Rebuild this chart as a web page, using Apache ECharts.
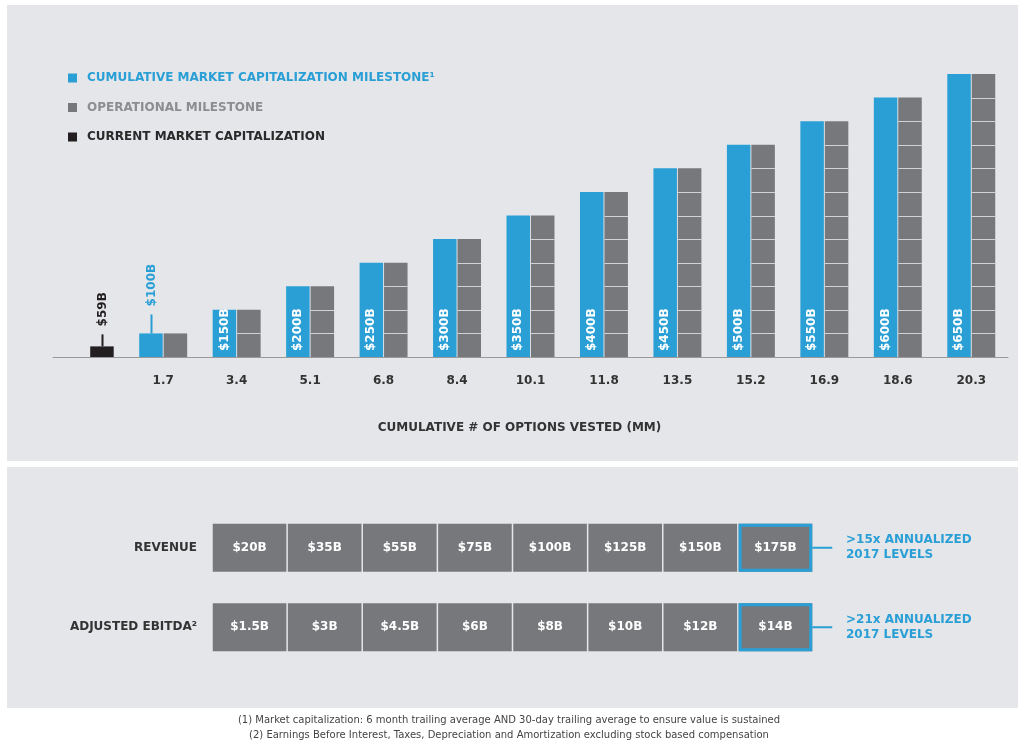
<!DOCTYPE html>
<html lang="en">
  <head>
    <meta charset="utf-8">
    <title>Milestones</title>
    <script type="text/javascript" src="https://cdn.jsdelivr.net/npm/echarts@6/dist/echarts.min.js"></script>
    <style>
      html, body { margin: 0; padding: 0; background: #fff; }
      #chartDiv { width: 1018px; height: 742px; }
    </style>
  </head>
  <body>
    <div id="chartDiv"></div>
    <script>
      // top chart data
      var categories = ['', '1.7', '3.4', '5.1', '6.8', '8.4', '10.1', '11.8', '13.5', '15.2', '16.9', '18.6', '20.3'];
      var capLabels = ['$59B', '$100B', '$150B', '$200B', '$250B', '$300B', '$350B', '$400B', '$450B', '$500B', '$550B', '$600B', '$650B'];
      // bar heights in milestone units
      var milestoneHeights = ['-', 1, 2, 3, 4, 5, 6, 7, 8, 9, 10, 11, 12];
      var segmentCounts = ['-', 1, 2, 3, 4, 5, 6, 7, 8, 9, 10, 11, 12];
      var currentHeight = [0.45, '-', '-', '-', '-', '-', '-', '-', '-', '-', '-', '-', '-'];

      // bottom table data
      var columns = ['1', '2', '3', '4', '5', '6', '7', '8'];
      var rowNames = ['REVENUE', 'ADJUSTED EBITDA\u00b2'];
      var rowNotes = ['>15x ANNUALIZED\n2017 LEVELS', '>21x ANNUALIZED\n2017 LEVELS'];
      var revenue = ['$20B', '$35B', '$55B', '$75B', '$100B', '$125B', '$150B', '$175B'];
      var ebitda = ['$1.5B', '$3B', '$4.5B', '$6B', '$8B', '$10B', '$12B', '$14B'];

      var BLUE = '#2a9fd5';
      var GRAY = '#77787c';
      var BLACK = '#231f20';
      var PANEL = '#e5e6ea';
      var FONT = 'DejaVu Sans';
      var BAR_W = 0.32;   // bar width, share of band
      var SLOT = 0.1664;  // offset of each slot from band centre, share of band

      var chart = echarts.init(document.getElementById('chartDiv'));

      var series = [];

      var blueData = [];
      for (var i = 0; i < milestoneHeights.length; i++) {
        blueData.push({
          value: milestoneHeights[i],
          label: { show: i > 1, formatter: capLabels[i] }
        });
      }
      series.push({
        name: 'CUMULATIVE MARKET CAPITALIZATION MILESTONE\u00b9',
        type: 'bar',
        xAxisIndex: 0, yAxisIndex: 0,
        barWidth: '32%', barGap: '4%',
        itemStyle: { color: BLUE },
        label: {
          position: 'insideBottom', rotate: 90, align: 'left', verticalAlign: 'middle',
          distance: 6, color: '#fff', fontFamily: FONT, fontWeight: 'bold', fontSize: 12
        },
        data: blueData
      });

      series.push({
        name: 'CURRENT MARKET CAPITALIZATION',
        type: 'bar', stack: 'ops',
        xAxisIndex: 0, yAxisIndex: 0,
        barWidth: '32%', barGap: '4%',
        itemStyle: { color: BLACK },
        data: currentHeight
      });

      series.push({
        name: 'OPERATIONAL MILESTONE',
        type: 'bar', stack: 'ops',
        xAxisIndex: 0, yAxisIndex: 0,
        barWidth: '32%', barGap: '4%',
        itemStyle: { color: GRAY },
        data: segmentCounts
      });

      // thin lines splitting the gray bars into one block per milestone
      var splitData = [];
      for (var s = 0; s < segmentCounts.length; s++) {
        if (segmentCounts[s] !== '-') splitData.push([s, segmentCounts[s]]);
      }
      series.push({
        type: 'custom',
        xAxisIndex: 0, yAxisIndex: 0,
        silent: true, z: 5,
        renderItem: function (params, api) {
          var n = api.value(1);
          var band = api.size([1, 0])[0];
          var c = api.coord([api.value(0), 0]);
          var xc = c[0] + band * SLOT;
          var half = band * BAR_W / 2;
          var kids = [];
          for (var k = 1; k < n; k++) {
            var y = Math.round(api.coord([api.value(0), k])[1]) + 0.5;
            kids.push({ type: 'rect', shape: { x: xc - half, y: y - 0.5, width: half * 2, height: 1 },
              style: { fill: '#d2d3d6' } });
          }
          return { type: 'group', children: kids };
        },
        encode: { x: 0, y: 1 },
        data: splitData
      });

      // callouts for $59B and $100B
      var calloutStyle = [
        { side: 1, color: BLACK, len: 12 },
        { side: -1, color: BLUE, len: 19 }
      ];
      series.push({
        type: 'custom',
        xAxisIndex: 0, yAxisIndex: 0,
        silent: true,
        renderItem: function (params, api) {
          var st = calloutStyle[params.dataIndex];
          var band = api.size([1, 0])[0];
          var p = api.coord([api.value(0), api.value(1)]);
          var x = Math.round(p[0] + st.side * band * SLOT) + 0.5;
          return {
            type: 'group',
            children: [
              { type: 'line', shape: { x1: x, y1: p[1], x2: x, y2: p[1] - st.len },
                style: { stroke: st.color, lineWidth: 2 } },
              { type: 'text', x: x, y: p[1] - st.len - 8, rotation: Math.PI / 2,
                style: { text: capLabels[params.dataIndex], fill: st.color, align: 'left',
                  verticalAlign: 'middle', font: 'bold 12px "' + FONT + '"' } }
            ]
          };
        },
        data: [[0, currentHeight[0]], [1, milestoneHeights[1]]]
      });

      // bottom table cells
      var cells = [];
      for (var c = 0; c < columns.length; c++) {
        cells.push([c, 0, revenue[c]]);
        cells.push([c, 1, ebitda[c]]);
      }
      series.push({
        type: 'custom',
        xAxisIndex: 1, yAxisIndex: 1,
        silent: true,
        renderItem: function (params, api) {
          var size = api.size([1, 1]);
          var p = api.coord([api.value(0), api.value(1)]);
          var w = size[0] - 1.5, h = 48;
          var x0 = p[0] - w / 2, y0 = p[1] - h / 2;
          var last = api.value(0) === columns.length - 1;
          var kids = [
            { type: 'rect', shape: { x: x0, y: y0, width: w, height: h },
              style: { fill: GRAY } },
            { type: 'text', x: p[0], y: p[1],
              style: { text: cells[params.dataIndex][2], fill: '#fff', align: 'center',
                verticalAlign: 'middle', font: 'bold 12px "' + FONT + '"' } }
          ];
          if (last) {
            kids.push({ type: 'rect', shape: { x: x0 + 1.5, y: y0 + 1.5, width: w - 3, height: h - 3 },
              style: { fill: null, stroke: BLUE, lineWidth: 3 } });
            kids.push({ type: 'line', shape: { x1: x0 + w, y1: p[1], x2: x0 + w + 20, y2: p[1] },
              style: { stroke: BLUE, lineWidth: 2 } });
          }
          return { type: 'group', children: kids };
        },
        data: cells
      });

      chart.setOption({
        backgroundColor: '#fff',
        animation: false,
        textStyle: { fontFamily: FONT },
        graphic: { elements: [
          { type: 'rect', z: -10, silent: true, shape: { x: 7, y: 5, width: 1011, height: 456 }, style: { fill: PANEL } },
          { type: 'rect', z: -10, silent: true, shape: { x: 7, y: 467, width: 1011, height: 241 }, style: { fill: PANEL } },
          { type: 'text', z: 10, left: 'center', top: 715, silent: true,
            style: { text: '(1) Market capitalization: 6 month trailing average AND 30-day trailing average to ensure value is sustained',
              fill: '#444', font: '10px "' + FONT + '"' } },
          { type: 'text', z: 10, left: 'center', top: 730, silent: true,
            style: { text: '(2) Earnings Before Interest, Taxes, Depreciation and Amortization excluding stock based compensation',
              fill: '#444', font: '10px "' + FONT + '"' } }
        ] },
        legend: {
          orient: 'vertical', left: 63, top: 67,
          itemWidth: 9, itemHeight: 9, itemGap: 17.5, icon: 'rect',
          selectedMode: false,
          textStyle: { fontFamily: FONT, fontSize: 12, fontWeight: 'bold', padding: [0, 0, 0, 5] },
          data: [
            { name: 'CUMULATIVE MARKET CAPITALIZATION MILESTONE\u00b9', textStyle: { color: BLUE } },
            { name: 'OPERATIONAL MILESTONE', textStyle: { color: '#8c8d90' } },
            { name: 'CURRENT MARKET CAPITALIZATION', textStyle: { color: '#2a2a2a' } }
          ]
        },
        grid: [
          { left: 53, right: 10, top: 74, bottom: 385 },
          { left: 212, right: 205, top: 508, bottom: 75 }
        ],
        xAxis: [
          {
            type: 'category', gridIndex: 0, data: categories,
            axisLine: { lineStyle: { color: '#9a9a9a', width: 1 } },
            axisTick: { show: false },
            axisLabel: { color: '#333', fontSize: 12, fontWeight: 'bold', margin: 18 },
            name: 'CUMULATIVE # OF OPTIONS VESTED (MM)', nameLocation: 'middle', nameGap: 65,
            nameTextStyle: { color: '#333', fontSize: 12, fontWeight: 'bold', padding: [0, 22, 0, 0] }
          },
          {
            type: 'category', gridIndex: 1, data: columns,
            axisLine: { show: false }, axisTick: { show: false }, axisLabel: { show: false }
          }
        ],
        yAxis: [
          {
            type: 'value', gridIndex: 0, min: 0, max: 12,
            axisLine: { show: false }, axisTick: { show: false },
            axisLabel: { show: false }, splitLine: { show: false }
          },
          {
            type: 'category', gridIndex: 1, data: rowNames, inverse: true,
            axisLine: { show: false }, axisTick: { show: false },
            axisLabel: { color: '#333', fontSize: 12, fontWeight: 'bold', margin: 15 }
          },
          {
            type: 'category', gridIndex: 1, data: rowNotes, inverse: true, position: 'right',
            axisLine: { show: false }, axisTick: { show: false },
            axisLabel: { color: BLUE, fontSize: 12, fontWeight: 'bold', margin: 33, lineHeight: 15, align: 'left' }
          }
        ],
        series: series
      });
    </script>
  </body>
</html>
